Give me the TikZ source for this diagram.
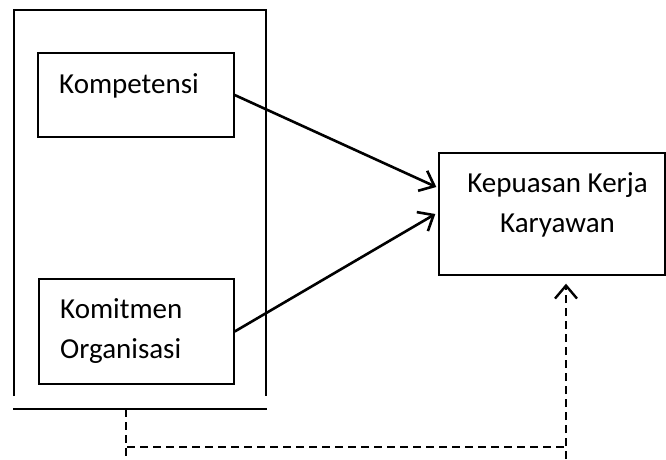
\documentclass[tikz,border=0pt]{standalone}
\usepackage{fontspec}
\setmainfont{Carlito}
\usetikzlibrary{arrows.meta, positioning, calc}
\tikzset{
    model/.style={x=1pt, y=-1pt, >={Straight Barb[length=13pt, width=22pt]}, font=\fontsize{29}{40}\selectfont},
    box/.style={draw, line width=1.4pt, inner sep=0pt},
    lbl/.style={inner sep=0pt, align=left},
    frame/.style={line width=2.4pt},
    link/.style={->, line width=2.6pt},
    % dashed return path below the frame
    back/.style={line width=2.4pt, dash pattern=on 8pt off 5pt},
}

\begin{document}
\begin{tikzpicture}[model]
        \useasboundingbox (0,0) rectangle (666,459);
        \node[box, minimum width=196pt, minimum height=84pt]  (komp)  at (136,95)    {};
        \node[box, minimum width=195pt, minimum height=105pt] (komit) at (136.5,331.5) {};
        \node[box, minimum width=226pt, minimum height=122pt] (kep)   at (552,214)   {};

        \node[lbl, anchor=base west] (kompT)  at (59,93)   {Kompetensi};
        \node[lbl, anchor=base west] (komitT) at (60,358)  {Komitmen\\Organisasi};
        \node[lbl, anchor=base, align=center] (kepT) at (557.5,232) {Kepuasan Kerja\\Karyawan};

        \draw[frame] (14,396) -- (14,10) -- (266,10) -- (266,396);
        \draw[frame] (13,409) coordinate (baseL) -- (267,409) coordinate (baseR);
        \coordinate (drop)   at (126,409);
        \coordinate (endL)   at (126,459);
        \coordinate (cornerL) at (127,447);
        \coordinate (cornerR) at (566,447);
        \coordinate (endR)   at (566,459);
        \coordinate (tipK)   at ($(kep.south -| cornerR)+(0,8)$);

        \draw[link] (komp.east) -- ([yshift=27pt, xshift=-2pt]kep.west);
        \draw[link] (komit.east) -- ([xshift=-3pt]kep.west);

        \draw[back] (drop) -- (endL);
        \draw[back] (cornerL) -- (cornerR);
        \draw[back, ->] (endR) -- (tipK);
    \end{tikzpicture}
\end{document}
